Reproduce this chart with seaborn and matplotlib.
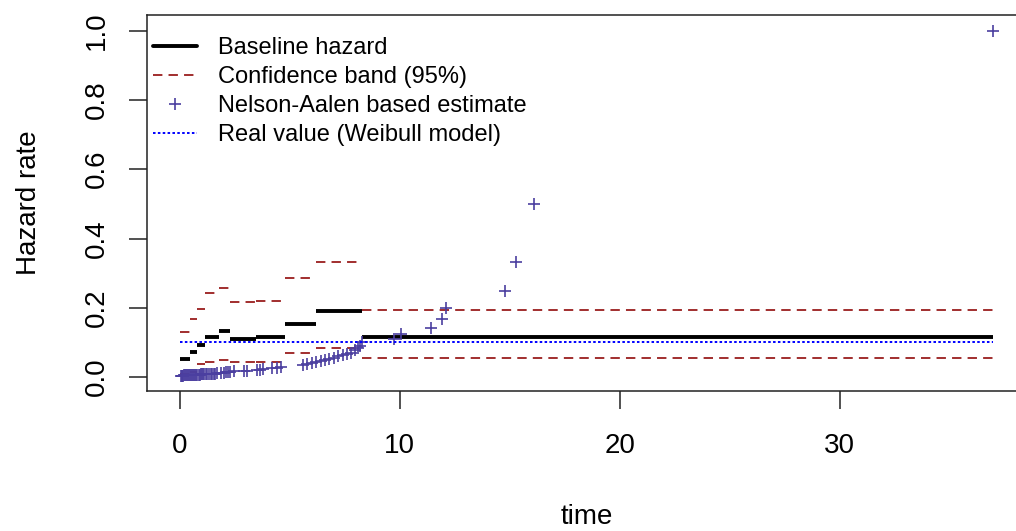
import matplotlib
matplotlib.use("Agg")
import matplotlib.pyplot as plt
from matplotlib.lines import Line2D
import seaborn as sns
import pandas as pd

# ---- data ----
seg_start = [0.0, 0.45, 0.8, 1.15, 1.8, 2.3, 3.45, 4.8, 6.2, 8.3]
seg_end = [0.45, 0.8, 1.15, 1.8, 2.3, 3.45, 4.8, 6.2, 8.3, 37.0]
baseline_hazard = [0.052, 0.072, 0.094, 0.116, 0.132, 0.109, 0.116, 0.153, 0.190, 0.117]
band_upper = [0.129, 0.167, 0.198, 0.242, 0.257, 0.216, 0.220, 0.285, 0.331, 0.193]
band_lower = [0.010, 0.016, 0.039, 0.043, 0.050, 0.043, 0.043, 0.069, 0.085, 0.055]

na_time = [0.05, 0.08, 0.12, 0.16, 0.2, 0.24, 0.28, 0.32, 0.35, 0.42, 0.46, 0.5,
           0.55, 0.6, 0.65, 0.7, 0.75, 0.8, 0.85, 0.9, 0.95, 1.0, 1.05,
           1.1, 1.18, 1.25, 1.32, 1.4, 1.48, 1.55, 1.62, 1.7, 1.85, 2.0, 2.1,
           2.2, 2.3, 2.45, 2.9, 3.05, 3.5, 3.65, 3.8, 4.2, 4.4, 4.6, 5.6, 5.8,
           6.0, 6.2, 6.4, 6.6, 6.8, 7.0, 7.2, 7.4, 7.6, 7.8, 7.95, 8.1, 8.2, 8.3,
           9.74, 10.08, 11.4, 11.94, 12.12, 14.77, 15.27, 16.12, 37.0]
na_hazard = [0.004, 0.004, 0.004, 0.004, 0.005, 0.005, 0.005, 0.005, 0.005, 0.006, 0.006, 0.006,
             0.006, 0.006, 0.007, 0.007, 0.007, 0.007, 0.007, 0.007, 0.008, 0.008, 0.008,
             0.008, 0.008, 0.009, 0.009, 0.009, 0.010, 0.010, 0.010, 0.011, 0.012, 0.013, 0.014,
             0.015, 0.016, 0.017, 0.018, 0.019, 0.021, 0.022, 0.023, 0.025, 0.026, 0.028, 0.036, 0.038,
             0.040, 0.043, 0.046, 0.050, 0.053, 0.056, 0.060, 0.063, 0.067, 0.071, 0.077, 0.083, 0.091, 0.100,
             0.111, 0.125, 0.143, 0.167, 0.200, 0.250, 0.333, 0.500, 1.000]

real_time = [0.0, 37.0]
real_value = [0.1, 0.1]

x_ticks = [0, 10, 20, 30]
y_ticks = [0.0, 0.2, 0.4, 0.6, 0.8, 1.0]
legend_labels = ["Baseline hazard", "Confidence band (95%)",
                 "Nelson-Aalen based estimate", "Real value (Weibull model)"]

# ---- style ----
sns.set_style("ticks")
plt.rcParams["font.family"] = ["Liberation Sans", "DejaVu Sans"]
plt.rcParams["text.color"] = "black"
plt.rcParams["axes.labelcolor"] = "black"
plt.rcParams["xtick.color"] = "black"
plt.rcParams["ytick.color"] = "black"

W, H, DPI = 1016, 531, 100
fig = plt.figure(figsize=(W / DPI, H / DPI), dpi=DPI)
ax_left, ax_right, ax_top, ax_bottom = 147.3, 1026.0, 15.0, 391.0
ax = fig.add_axes([ax_left / W, 1 - ax_bottom / H,
                   (ax_right - ax_left) / W, (ax_bottom - ax_top) / H])

band_color = "#9A1E1E"
pt_color = "#4B3FA0"
band_dash = (0, (5.2, 3.4))
real_dash = (0, (1.3, 1.2))

ax.hlines(baseline_hazard, seg_start, seg_end, colors="black", linewidth=2.8, zorder=3)
ax.hlines(band_upper, seg_start, seg_end, colors=band_color, linewidth=1.3,
          linestyles=[band_dash], zorder=3)
ax.hlines(band_lower, seg_start, seg_end, colors=band_color, linewidth=1.3,
          linestyles=[band_dash], zorder=3)

df_na = pd.DataFrame({"time": na_time, "hazard": na_hazard})
sns.scatterplot(data=df_na, x="time", y="hazard", marker="+", s=80,
                color=pt_color, linewidth=1.2, legend=False, ax=ax, zorder=4)

df_real = pd.DataFrame({"time": real_time, "value": real_value})
sns.lineplot(data=df_real, x="time", y="value", color="blue", linewidth=1.4,
             dashes=False, ax=ax, zorder=5)
ax.lines[-1].set_linestyle(real_dash)

ax.set_xlim(-1.48, 38.48)
ax.set_ylim(-0.04, 1.045)
ax.set_xticks(x_ticks)
ax.set_yticks(y_ticks)
ax.set_xticklabels([str(v) for v in x_ticks])
ax.set_yticklabels([f"{v:.1f}" for v in y_ticks])

for sp in ax.spines.values():
    sp.set_visible(True)
    sp.set_linewidth(1.1)
    sp.set_color("#222222")

ax.tick_params(axis="both", direction="out", length=13, width=1.1, color="#222222",
               labelsize=20, labelcolor="black", pad=14)
ax.tick_params(axis="x", pad=17)
ax.tick_params(axis="y", labelrotation=90)
for lab in ax.get_yticklabels():
    lab.set_va("center")

ax.set_xlabel("time", fontsize=20, labelpad=33, color="black")
ax.set_ylabel("Hazard rate", fontsize=20, labelpad=30, color="black")

handles = [
    Line2D([], [], color="black", linewidth=2.8),
    Line2D([], [], color=band_color, linewidth=1.3, linestyle=band_dash),
    Line2D([], [], color=pt_color, linestyle="none", marker="+", markersize=9,
           markeredgewidth=1.2),
    Line2D([], [], color="blue", linewidth=1.4, linestyle=real_dash),
]
leg = ax.legend(handles, legend_labels, loc="upper left", bbox_to_anchor=(0.006, 0.941),
                frameon=False, fontsize=17, handlelength=1.9, handletextpad=0.85,
                labelspacing=0.3, borderaxespad=0, borderpad=0)
for t in leg.get_texts():
    t.set_color("black")

fig.savefig("out.png", dpi=DPI)
